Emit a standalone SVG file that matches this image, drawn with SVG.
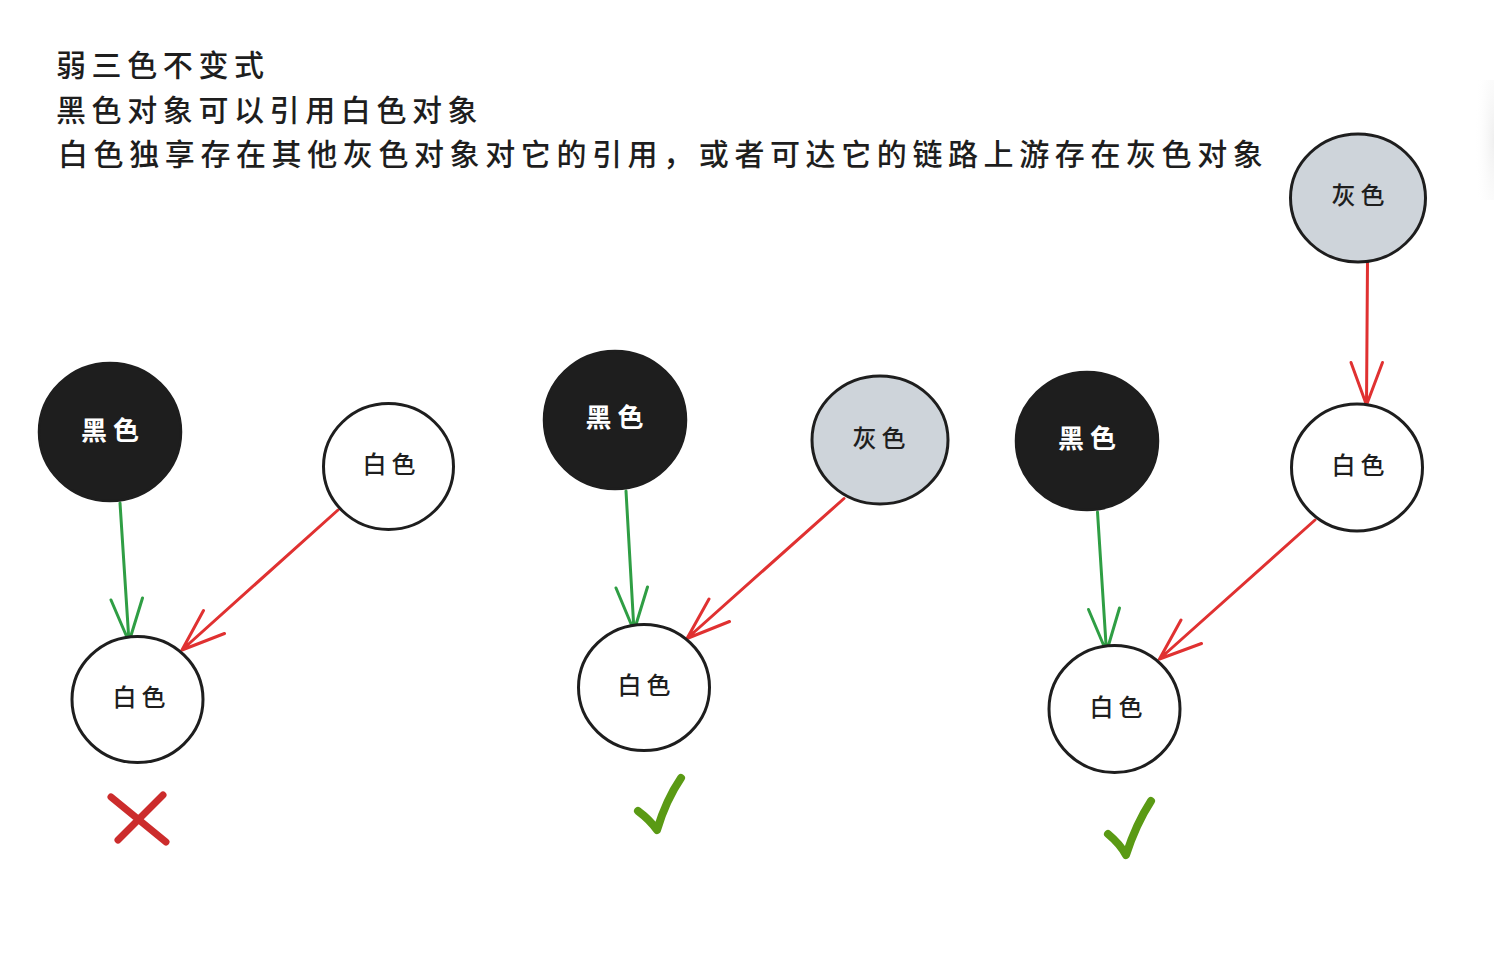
<svg xmlns="http://www.w3.org/2000/svg" width="1494" height="954" viewBox="0 0 1494 954">
<defs>
<style>
.t{font-family:"Noto Sans CJK SC","Noto Sans",sans-serif;fill:#1e1e1e}
.title{font-size:30px;letter-spacing:5.6px;font-weight:500}
.lbl{font-size:24px;letter-spacing:5px;text-anchor:middle;font-weight:500}
.lblw{font-size:26px;letter-spacing:6px;text-anchor:middle;fill:#ffffff;font-weight:700}
.nb{fill:#1e1e1e;stroke:#1e1e1e;stroke-width:2.5}
.nw{fill:#ffffff;stroke:#1e1e1e;stroke-width:3}
.ng{fill:#ced4da;stroke:#1e1e1e;stroke-width:3}
.g{fill:none;stroke:#2f9e44;stroke-width:3;stroke-linecap:round;stroke-linejoin:round}
.r{fill:none;stroke:#e03131;stroke-width:3;stroke-linecap:round;stroke-linejoin:round}
.ok{fill:none;stroke:#5a9a14;stroke-width:8;stroke-linecap:round;stroke-linejoin:round}
.no{fill:none;stroke:#cc2c2c;stroke-width:7;stroke-linecap:round}
</style>
<radialGradient id="edge" cx="1" cy="0.5" r="1">
<stop offset="0" stop-color="#efefef"/>
<stop offset="1" stop-color="#ffffff" stop-opacity="0"/>
</radialGradient>
</defs>
<rect width="1494" height="954" fill="#ffffff"/>
<rect x="1474" y="80" width="20" height="120" fill="url(#edge)"/>

<g id="title">
<text class="t title" x="56" y="76">弱三色不变式</text>
<text class="t title" x="56" y="121">黑色对象可以引用白色对象</text>
<text class="t title" x="58" y="165">白色独享存在其他灰色对象对它的引用，或者可达它的链路上游存在灰色对象</text>
</g>

<g id="connectors">
<path class="g" d="M120 503 L129 642 M111 600 L129 642 L142.5 598"/>
<path class="r" d="M338 510 L182 650 M203.5 610.5 L182 650 L224.5 633.5"/>
<path class="g" d="M626 491 L634 631 M616 588 L634 631 L647.5 587"/>
<path class="r" d="M844 498.5 L687 638.5 M709 599 L687 638.5 L729.5 621.5"/>
<path class="g" d="M1097.5 512 L1106.5 652 M1088.5 609.5 L1106.5 652 L1119.5 608"/>
<path class="r" d="M1315 520 L1159.5 659 M1181 620 L1159.5 659 L1201.5 643.5"/>
<path class="r" d="M1367.5 261 L1366.5 405 M1351 362.5 L1366.5 405 L1382.5 362.5"/>
</g>

<g id="g1-black"><ellipse class="nb" cx="110" cy="432" rx="71" ry="69"/><text class="t lblw" x="113" y="440">黑色</text></g>
<g id="g1-white-src"><ellipse class="nw" cx="388.5" cy="466.5" rx="65" ry="63"/><text class="t lbl" x="391.5" y="473">白色</text></g>
<g id="g1-white-dst"><ellipse class="nw" cx="137.5" cy="699.5" rx="65.5" ry="63"/><text class="t lbl" x="141.5" y="706">白色</text></g>
<g id="g1-mark"><path class="no" d="M111 797 L166 842 M163 795 L118 840"/></g>

<g id="g2-black"><ellipse class="nb" cx="615" cy="420" rx="71" ry="69"/><text class="t lblw" x="617.5" y="427">黑色</text></g>
<g id="g2-grey"><ellipse class="ng" cx="880" cy="440" rx="68" ry="64"/><text class="t lbl" x="881.5" y="447">灰色</text></g>
<g id="g2-white"><ellipse class="nw" cx="644" cy="687.5" rx="65.5" ry="63"/><text class="t lbl" x="646.5" y="694">白色</text></g>
<g id="g2-mark"><path class="ok" d="M638 811 Q650 820 657 830 Q666 800 681 778"/></g>

<g id="g3-black"><ellipse class="nb" cx="1087" cy="441" rx="71" ry="69"/><text class="t lblw" x="1090" y="448">黑色</text></g>
<g id="g3-grey"><ellipse class="ng" cx="1358" cy="198" rx="67.5" ry="64"/><text class="t lbl" x="1360.5" y="204">灰色</text></g>
<g id="g3-white-mid"><ellipse class="nw" cx="1357" cy="467.5" rx="65.5" ry="63.5"/><text class="t lbl" x="1360.5" y="474">白色</text></g>
<g id="g3-white-dst"><ellipse class="nw" cx="1114.5" cy="709" rx="65.5" ry="63.5"/><text class="t lbl" x="1118.5" y="716">白色</text></g>
<g id="g3-mark"><path class="ok" d="M1108 834 Q1120 844 1126 855 Q1136 824 1151 801"/></g>
</svg>
